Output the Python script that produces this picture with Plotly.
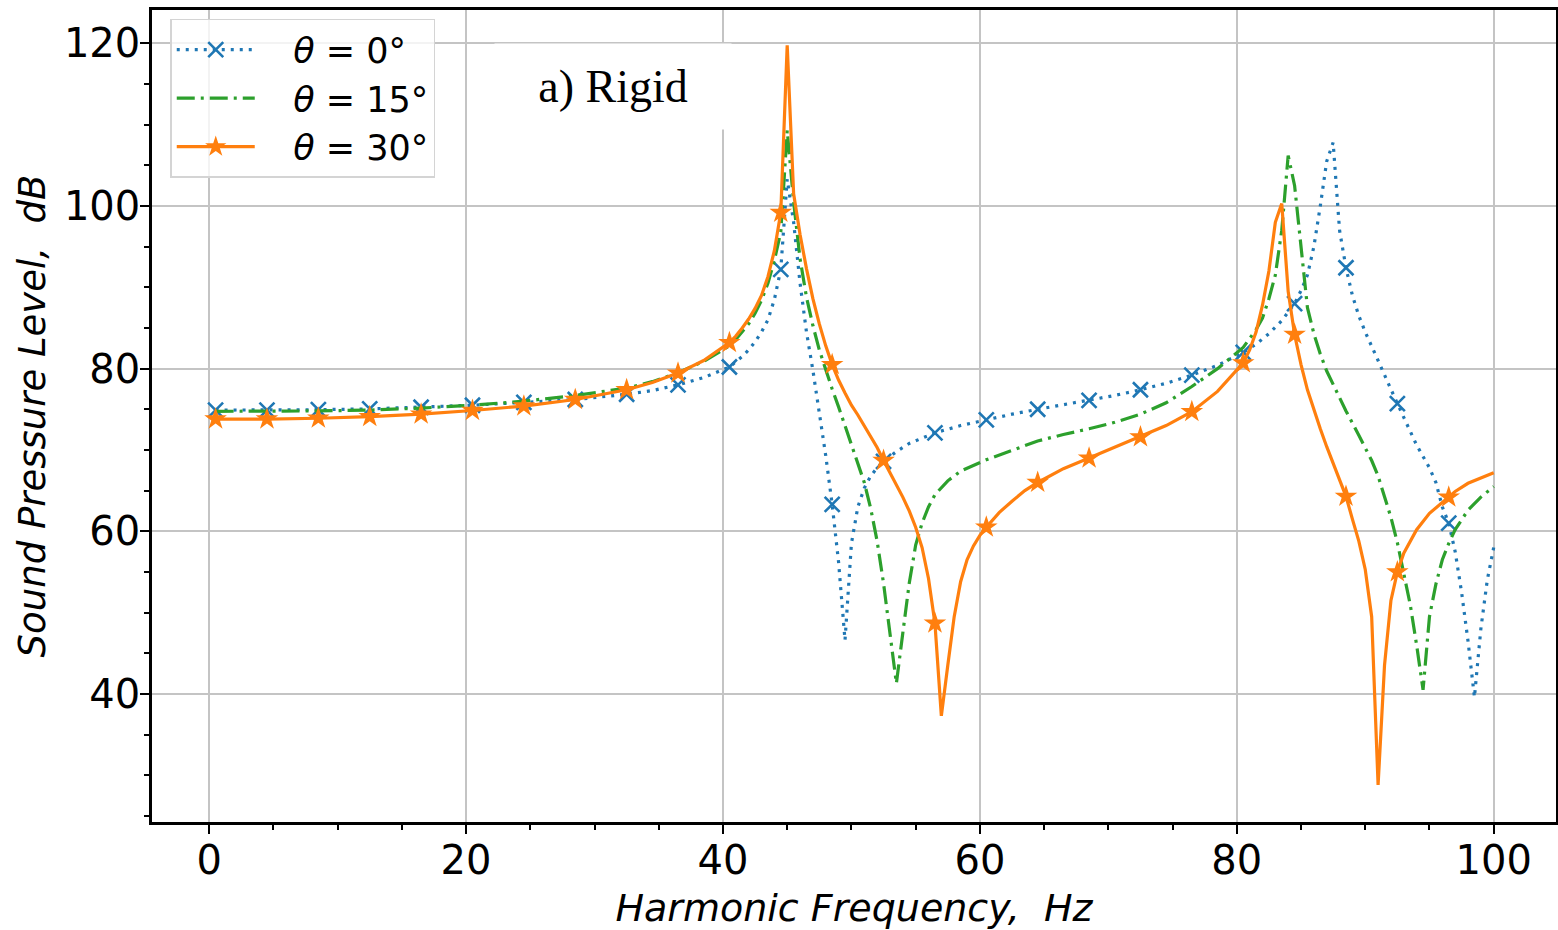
import plotly.graph_objects as go

# ---------------- data ----------------
FREQ_0 = [0.5, 4.5, 8.5, 12.5, 16.5, 20.5, 24.5, 28.5, 32.5, 34.5, 36.5, 38.5, 40.5,
          41, 41.5, 42, 42.5, 43, 43.5, 44, 44.5, 45, 45.5, 46, 46.5, 47, 47.5, 48,
          48.5, 49, 49.5, 50, 50.5, 51, 51.5, 52, 52.5, 53.5, 54.5, 55.5, 56.5, 58.5,
          60.5, 62.5, 64.5, 66.5, 68.5, 70.5, 72.5, 74.5, 76.5, 78.5, 80.5, 81.5, 82.5,
          83.5, 84.5, 85, 85.5, 86, 86.5, 87, 87.5, 88, 88.5, 89, 89.5, 90, 91, 92,
          92.5, 93, 94, 95, 95.5, 96, 96.5, 97, 97.5, 98, 98.5, 99, 99.5, 100]
SPL_0 = [74.9, 74.9, 74.95, 75.05, 75.25, 75.5, 75.85, 76.2, 76.85, 77.3, 78.0, 78.9, 80.2,
         80.8, 81.5, 82.3, 83.3, 84.5, 86.0, 88.5, 92.2, 103.3, 98.0, 90.5, 84.5, 79.8, 74.5, 69.3,
         63.3, 56.2, 46.6, 58.5, 63.0, 65.3, 66.8, 67.8, 68.6, 69.8, 70.8, 71.5, 72.1, 73.0,
         73.7, 74.4, 75.0, 75.55, 76.1, 76.7, 77.4, 78.2, 79.2, 80.4, 82.0, 83.0, 84.3,
         85.9, 88.0, 89.6, 91.5, 95.0, 100.0, 105.5, 107.8, 97.0, 92.4, 89.0, 86.5, 84.5, 81.0, 77.3,
         75.7, 74.0, 70.6, 67.8, 66.0, 63.0, 61.0, 57.5, 52.5, 46.5, 39.6, 48.0, 54.0, 58.0]

FREQ_15 = [0.5, 4.5, 8.5, 12.5, 16.5, 20.5, 24.5, 28.5, 32.5, 34.5, 36.5, 38.5, 40.5,
           41, 41.5, 42, 42.5, 43, 43.5, 44, 44.5, 45, 45.5, 46, 46.5, 47, 47.5, 48,
           48.5, 49, 49.5, 50, 50.5, 51, 51.5, 52, 52.5, 53, 53.5, 54, 54.5, 55, 55.5,
           56, 56.5, 57.5, 58.5, 60.5, 62.5, 64.5, 66.5, 68.5, 70.5, 72.5, 74.5, 76.5,
           78.5, 80.5, 81.5, 82, 82.5, 83, 83.5, 84, 84.5, 85, 85.5, 86, 86.5, 87, 87.5,
           88.5, 89.5, 90, 90.5, 91, 91.5, 92, 92.5, 93, 93.5, 94, 94.5, 95, 95.5, 96,
           96.5, 97, 98, 99, 100]
SPL_15 = [74.75, 74.75, 74.8, 74.9, 75.15, 75.5, 76.0, 76.7, 77.6, 78.4, 79.5, 80.9, 82.8,
          83.6, 84.5, 85.5, 86.8, 88.4, 90.5, 93.3, 96.8, 109.3, 100.5, 93.5, 88.8, 85.3, 82.3, 79.8,
          77.5, 75.3, 73.0, 70.8, 68.5, 66.0, 62.8, 58.8, 53.6, 47.5, 41.3, 47.5, 53.6, 58.3, 61.0,
          63.0, 64.5, 66.2, 67.4, 68.8, 70.0, 71.1, 71.9, 72.6, 73.4, 74.4, 75.8, 77.8,
          80.0, 82.6, 84.8, 86.2, 88.6, 91.5, 97.0, 106.2, 102.5, 94.5, 87.5, 84.3, 81.8, 79.7, 78.0,
          74.8, 71.8, 70.3, 68.7, 66.8, 64.4, 61.7, 58.6, 55.0, 51.0, 46.0, 40.5, 49.5, 53.5, 56.5,
          58.5, 60.2, 62.6, 64.2, 65.5]

FREQ_30 = [0.5, 4.5, 8.5, 12.5, 16.5, 20.5, 24.5, 28.5, 32.5, 34.5, 36.5, 38.5, 40.5,
           41, 41.5, 42, 42.5, 43, 43.5, 44, 44.5, 45, 45.5, 46, 46.5, 47, 47.5, 48,
           48.5, 49, 49.5, 50, 50.5, 51, 51.5, 52, 52.5, 53, 53.5, 54, 54.5, 55, 55.5,
           56, 56.5, 57, 57.5, 58, 58.5, 59, 59.5, 60, 60.5, 61.5, 62.5, 63.5, 64.5,
           66.5, 68.5, 70.5, 72.5, 74.5, 76.5, 78.5, 80.5, 81, 81.5, 82, 82.5, 83, 83.5,
           84, 84.5, 85, 85.5, 86, 86.5, 87, 87.5, 88, 88.5, 89, 89.5, 90, 90.5, 91,
           91.5, 92, 92.5, 93, 94, 95, 96, 96.5, 97, 98, 99, 100]
SPL_30 = [73.8, 73.8, 73.9, 74.1, 74.4, 74.85, 75.4, 76.2, 77.4, 78.3, 79.45, 81.0, 83.2,
          84.0, 85.0, 86.1, 87.4, 89.0, 91.3, 94.5, 99.2, 119.75, 101.5, 96.5, 92.3, 88.6, 85.5, 82.8,
          80.5, 78.6, 77.0, 75.5, 74.3, 73.0, 71.7, 70.3, 68.7, 67.2, 65.8, 64.2, 62.5, 60.5, 58.0,
          54.2, 48.7, 37.3, 43.5, 49.5, 53.8, 56.5, 58.2, 59.5, 60.5, 62.3, 63.7, 65.0, 66.0,
          67.7, 69.0, 70.3, 71.6, 73.0, 74.7, 77.2, 80.7, 82.3, 84.5, 87.8, 92.0, 98.0, 100.3,
          89.5, 84.2, 80.5, 77.4, 74.9, 72.6, 70.4, 68.3, 66.3, 64.3, 61.5, 58.8, 55.3, 49.5, 28.8,
          43.5, 51.5, 55.0, 57.3, 60.2, 62.2, 63.6, 64.2, 64.9, 65.9, 66.6, 67.2]

MARKER_FREQS = [0.5, 4.5, 8.5, 12.5, 16.5, 20.5, 24.5, 28.5, 32.5, 36.5, 40.5, 44.5, 48.5,
                52.5, 56.5, 60.5, 64.5, 68.5, 72.5, 76.5, 80.5, 84.5, 88.5, 92.5, 96.5]

NBSP = "\u00a0"
SERIES_NAMES = [NBSP * 3 + "<i>θ</i> = 0°", NBSP * 3 + "<i>θ</i> = 15°", NBSP * 3 + "<i>θ</i> = 30°"]
X_TICKS = [0, 20, 40, 60, 80, 100]
Y_TICKS = [40, 60, 80, 100, 120]
X_TITLE = "<i>Harmonic Frequency,  Hz</i>"
Y_TITLE = "<i>Sound Pressure Level,  dB</i>"
PANEL_LABEL = "a) Rigid"

BLUE = "#1f77b4"
GREEN = "#2ca02c"
ORANGE = "#ff7f0e"


def pick_markers(freqs, vals):
    mx, my = [], []
    for f, v in zip(freqs, vals):
        if f in MARKER_FREQS:
            mx.append(f)
            my.append(v)
    return mx, my


fig = go.Figure()

LW = 3.2
DOT = "3px,6px"
DASHDOT = "18px,6px,3px,6px"

# theta = 0
fig.add_trace(go.Scatter(x=FREQ_0, y=SPL_0, mode="lines", showlegend=False,
                         line=dict(color=BLUE, width=LW, dash=DOT)))
mx, my = pick_markers(FREQ_0, SPL_0)
fig.add_trace(go.Scatter(x=mx, y=my, mode="markers", showlegend=False,
                         marker=dict(symbol="x-thin", size=15, color=BLUE,
                                     line=dict(color=BLUE, width=2.6))))
# theta = 15
fig.add_trace(go.Scatter(x=FREQ_15, y=SPL_15, mode="lines", showlegend=False,
                         line=dict(color=GREEN, width=LW, dash=DASHDOT)))
# theta = 30
fig.add_trace(go.Scatter(x=FREQ_30, y=SPL_30, mode="lines", showlegend=False,
                         line=dict(color=ORANGE, width=LW)))
mx, my = pick_markers(FREQ_30, SPL_30)
fig.add_trace(go.Scatter(x=mx, y=my, mode="markers", showlegend=False,
                         marker=dict(symbol="star", size=17, color=ORANGE,
                                     line=dict(width=0))))

# legend entries
fig.add_trace(go.Scatter(x=[None], y=[None], mode="lines+markers", name=SERIES_NAMES[0],
                         line=dict(color=BLUE, width=LW, dash=DOT),
                         marker=dict(symbol="x-thin", size=15, color=BLUE,
                                     line=dict(color=BLUE, width=2.6))))
fig.add_trace(go.Scatter(x=[None], y=[None], mode="lines", name=SERIES_NAMES[1],
                         line=dict(color=GREEN, width=LW, dash=DASHDOT)))
fig.add_trace(go.Scatter(x=[None], y=[None], mode="lines+markers", name=SERIES_NAMES[2],
                         line=dict(color=ORANGE, width=LW),
                         marker=dict(symbol="star", size=17, color=ORANGE, line=dict(width=0))))

FONT = "DejaVu Sans"
axis_common = dict(
    showline=True, linecolor="black", linewidth=2.5, mirror=True,
    ticks="outside", ticklen=9, tickwidth=2, tickcolor="black",
    showgrid=True, gridcolor="#c4c4c4", gridwidth=1.5,
    zeroline=False,
    tickfont=dict(family=FONT, size=40, color="black"),
    ticklabelstandoff=-8,
)

fig.update_layout(
    width=1558, height=930,
    margin=dict(l=152, r=2, t=10, b=108, autoexpand=False),
    paper_bgcolor="white", plot_bgcolor="white",
    xaxis=dict(range=[-4.45, 104.85], tickvals=X_TICKS, **axis_common,
               minor=dict(tickvals=[v for v in range(0, 105, 5) if v not in X_TICKS],
                          ticks="outside", ticklen=5, tickwidth=2, tickcolor="black",
                          showgrid=False),
               title=dict(text=X_TITLE, font=dict(family=FONT, size=38, color="black"),
                          standoff=13)),
    yaxis=dict(range=[24.25, 124.1], tickvals=Y_TICKS, **axis_common,
               minor=dict(tickvals=[v for v in range(25, 125, 5) if v not in Y_TICKS],
                          ticks="outside", ticklen=5, tickwidth=2, tickcolor="black",
                          showgrid=False),
               title=dict(text=Y_TITLE, font=dict(family=FONT, size=37, color="black"),
                          standoff=7)),
    legend=dict(x=0.013, y=0.989, xanchor="left", yanchor="top",
                bgcolor="rgba(255,255,255,0.8)", bordercolor="#d4d4d4", borderwidth=1.5,
                font=dict(family=FONT, size=35, color="black"),
                itemwidth=78, tracegroupgap=0),
    annotations=[dict(text=PANEL_LABEL, xref="paper", yref="paper", x=0.328, y=0.906,
                      xanchor="center", yanchor="middle", showarrow=False,
                      font=dict(family="Liberation Serif", size=46, color="black"),
                      bgcolor="white", width=236, height=85, borderpad=0)],
)

fig.write_html("out.html")
